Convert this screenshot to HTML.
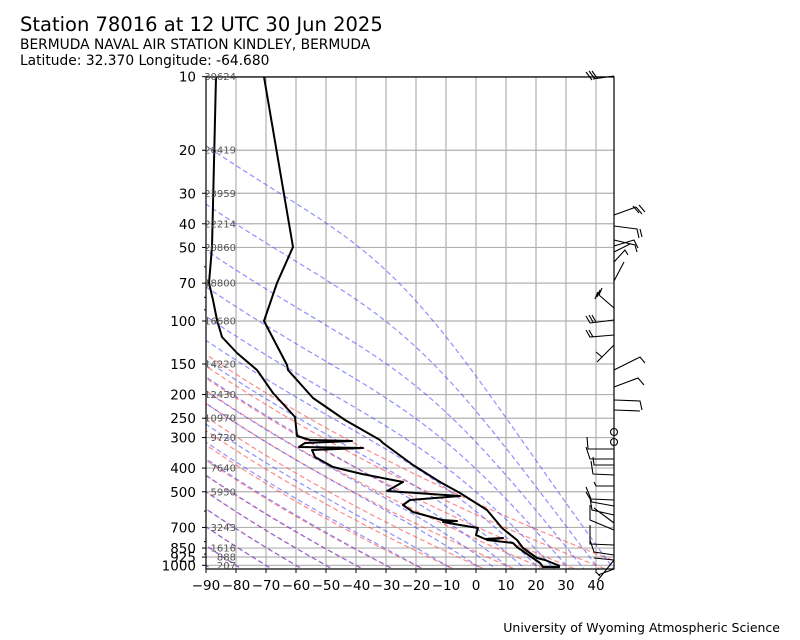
<!DOCTYPE html>
<html><head><meta charset="utf-8">
<style>
body{margin:0;background:#fff;width:800px;height:640px;overflow:hidden;font-family:"DejaVu Sans",sans-serif;}
svg{position:absolute;left:0;top:0}
</style></head>
<body>
<svg id="s" width="800" height="640" xmlns="http://www.w3.org/2000/svg" font-family="'DejaVu Sans',sans-serif">
<defs><clipPath id="c"><rect x="206" y="77" width="408" height="492"/></clipPath></defs>
<text x="20" y="31" font-size="19.5">Station 78016 at 12 UTC 30 Jun 2025</text>
<text x="20" y="49" font-size="13.8">BERMUDA NAVAL AIR STATION KINDLEY, BERMUDA</text>
<text x="20" y="65" font-size="13.8">Latitude: 32.370 Longitude: -64.680</text>
<text x="780" y="632" font-size="12.5" text-anchor="end">University of Wyoming Atmospheric Science</text>
<g id="grid"></g>
<g id="adi" clip-path="url(#c)"></g>
<g id="prof" clip-path="url(#c)" fill="none" stroke="#000" stroke-width="2" stroke-linejoin="round">
<polyline points="264,77 293,247 277,283 264,321 287,365 288,370 313,398 345,420 380,440 383,443 413,465 440,482 460,493 487,510 502,528 517,540 523,548 537,558 545,560 560,566"/>
<polyline points="216,77 212,247 209,283 213,300 217,320 222,337 237,353 257,370 273,393 295,417 297,436 310,440 352,441 305,443 299,447 363,448 312,450 315,457 333,467 362,474 403,482 387,491 460,496 410,500 403,505 413,512 442,520 457,521 443,522 460,525 478,528 476,535 485,539 503,538 487,540 513,543 517,547 540,563 543,567 560,567"/>
</g>
<g id="ax"></g>
<g id="barbs" fill="none" stroke="#000" stroke-width="1.1">
<path d="M614,76 L593,79 M586,72 L592,80 M589,71 L595,79 M592,71 L597,78"/>
<path d="M614,215 L636,207 M636,207 L642,214 M633,206 L639,213 M639,205 L645,212"/>
<path d="M614,226 L637,229 L639,238 M640,229 L642,237"/>
<path d="M614,240 L635,245 L637,252 M614,246 L634,240 L638,248 M614,252 L630,244 M614,262 L625,250 L628,255 M614,281 L624,262"/>
<path d="M614,308 L599,295 M599,295 L602,288 M597,297 L600,290 M595,299 L598,292"/>
<path d="M614,320 L590,323 M590,323 L586,316 M593,322 L589,315 M596,322 L592,315"/>
<path d="M614,335 L590,337 L586,330 M593,337 L589,330"/>
<path d="M614,345 L597,362 M602,357 L596,352"/>
<path d="M614,370 L640,357 L645,363"/>
<path d="M614,387 L638,378 L644,385"/>
<path d="M614,400 L640,401 L642,410 M614,410 L640,411"/>
<circle cx="614" cy="432" r="3.5"/><circle cx="614" cy="442" r="3.5"/>
<path d="M614,449 L588,449 L587,437 M614,459 L590,459 L586,447 M614,465 L594,465 L593,457 M614,475 L593,474 L591,461 M614,486 L596,486 L594,482"/>
<path d="M614,500 L591,499 L586,487 M614,506 L592,502 L586,492 M614,515 L592,510 L590,498 M614,523 L594,508 M614,530 L590,520 L590,505 M614,545 L590,544 L590,525 M614,555 L594,552 L590,540 M614,560 L594,558"/>
<path d="M614,569 L598,575 M614,560 L598,580 M596,572 L600,576"/>
</g>
</svg>
<script>
var NS="http://www.w3.org/2000/svg";
function X(t){return 206+3*(t+90);}
function Y(p){return 76.7+244.3*(Math.log10(p)-1);}
function el(par,tag,at,txt){var e=document.createElementNS(NS,tag);for(var k in at)e.setAttribute(k,at[k]);if(txt!==undefined)e.textContent=txt;document.getElementById(par).appendChild(e);return e;}
var prs=[10,20,30,40,50,70,100,150,200,250,300,400,500,700,850,925,1000];
for(var t=-80;t<=40;t+=10){el("grid","line",{x1:X(t),x2:X(t),y1:77,y2:569,stroke:"#b0b0b0","stroke-width":1.2});}
prs.forEach(function(p){el("grid","line",{x1:206,x2:614,y1:Y(p),y2:Y(p),stroke:"#b0b0b0","stroke-width":1.2});});
for(var t0=-100;t0<=50;t0+=10){
 var th=t0+273.15,pts=[];
 for(var p=1060;p>=10;p*=0.98){var T=th*Math.pow(p/1000,0.2857)-273.15;pts.push(X(T).toFixed(1)+","+Y(p).toFixed(1));if(T<-95)break;}
 el("adi","polyline",{points:pts.join(" "),fill:"none",stroke:"rgba(255,60,60,0.6)","stroke-width":1.2,"stroke-dasharray":"5,3"});
}
function es(tc){return 6.112*Math.exp(17.67*tc/(tc+243.5));}
function f(p,T){var tc=T-273.15;var e=es(tc);var rs=0.622*e/Math.max(p-e,1);var Lv=2.501e6;
 return (287*T+Lv*rs)/p/(1005+Lv*Lv*rs*0.622/(287*T*T));}
function integ(T0,p0,p1,dp){var T=T0,p=p0,out=[[p,T]];var n=Math.abs(p1-p0)/Math.abs(dp);
 for(var i=0;i<n;i++){var k1=f(p,T),k2=f(p+dp/2,T+dp/2*k1),k3=f(p+dp/2,T+dp/2*k2),k4=f(p+dp,T+dp*k3);
  T+=dp/6*(k1+2*k2+2*k3+k4);p+=dp;out.push([p,T]);if(T<173)break;}return out;}
var ms=[-100,-90,-80,-70,-60,-50,-40,-30,-20,-10,0,5,10,15,20,25,30,35,40,45];
ms.forEach(function(t0){
 var up=integ(t0+273.15,1000,10,-1),dn=integ(t0+273.15,1000,1060,2);
 var all=dn.reverse().concat(up.slice(1));
 var pts=all.map(function(a){return X(a[1]-273.15).toFixed(1)+","+Y(a[0]).toFixed(1);});
 el("adi","polyline",{points:pts.join(" "),fill:"none",stroke:"rgba(70,70,255,0.6)","stroke-width":1.2,"stroke-dasharray":"5,3"});
});
el("ax","rect",{x:206,y:77,width:408,height:492,fill:"none",stroke:"#000","stroke-width":1.2});
prs.forEach(function(p){var y=Y(p);el("ax","line",{x1:202,x2:206,y1:y,y2:y,stroke:"#000"});
 el("ax","text",{x:196,y:y+5,"font-size":13.5,"text-anchor":"end"},String(p));});
[60,80,90,600,800,900].forEach(function(p){var y=Y(p);el("ax","line",{x1:204,x2:206,y1:y,y2:y,stroke:"#000"});});
for(var t=-90;t<=40;t+=10){el("ax","line",{x1:X(t),x2:X(t),y1:569,y2:573,stroke:"#000"});
 el("ax","text",{x:X(t),y:590,"font-size":13.5,"text-anchor":"middle"},(t<0?"\u2212"+(-t):String(t)));}
var hts=[[10,"30624"],[20,"26419"],[30,"23959"],[40,"22214"],[50,"20860"],[70,"18800"],[100,"16680"],[150,"14220"],[200,"12430"],[250,"10970"],[300,"9720"],[400,"7640"],[500,"5950"],[700,"3243"],[850,"1616"],[925,"888"],[1000,"207"]];
hts.forEach(function(h){el("ax","text",{x:236,y:Y(h[0])+3.5,"font-size":10,"text-anchor":"end",fill:"#555"},h[1]);});
</script>
</body></html>
